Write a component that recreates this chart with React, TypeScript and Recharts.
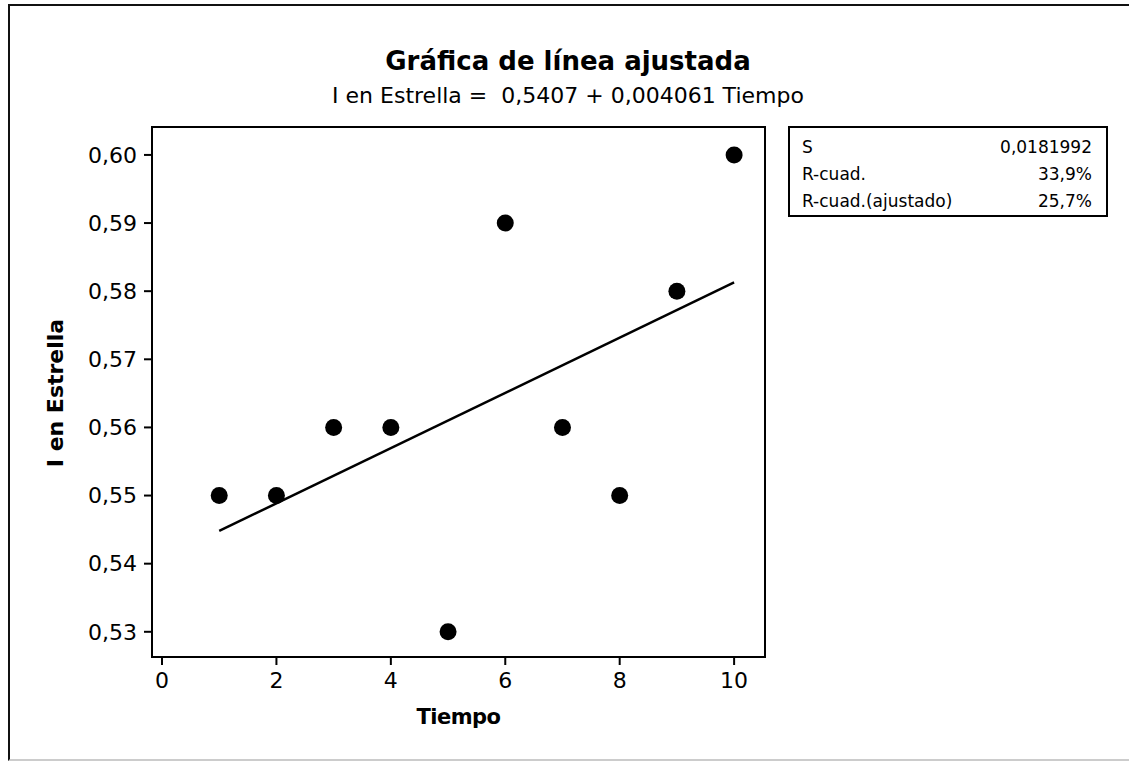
import React from 'react';
import { ComposedChart, Scatter, Line, XAxis, YAxis, ReferenceArea } from 'recharts';

const tiempo = [1, 2, 3, 4, 5, 6, 7, 8, 9, 10];
const estrella = [0.55, 0.55, 0.56, 0.56, 0.53, 0.59, 0.56, 0.55, 0.58, 0.6];
// ends of the fitted line
const fitX = [1, 10];
const fitY = [0.5448, 0.5813];

const xTicks = [0, 2, 4, 6, 8, 10];
const yTicks = [0.53, 0.54, 0.55, 0.56, 0.57, 0.58, 0.59, 0.6];
const xDomain = [-0.175, 10.54];
const yDomain = [0.5263, 0.6041];

const statsRows = [
  ['S', '0,0181992'],
  ['R-cuad.', '33,9%'],
  ['R-cuad.(ajustado)', '25,7%'],
];

const points = tiempo.map((x, i) => ({ x, y: estrella[i] }));
const fitLine = fitX.map((x, i) => ({ x, y: fitY[i] }));

const font = "'DejaVu Sans', sans-serif";

const Dot = (props: any) => <circle cx={props.cx} cy={props.cy} r={8.5} fill="#000" />;

export default function App() {
  return (
    <div style={{ position: 'absolute', left: 0, top: 0, width: 1129, height: 761, background: '#fff', fontFamily: font, color: '#000' }}>
      <div style={{ position: 'absolute', left: 8, top: 4, width: 1121, height: 753, borderLeft: '2px solid #111', borderTop: '2px solid #111', borderBottom: '2px solid #ccc' }} />

      <div style={{ position: 'absolute', left: 0, width: 1136, top: 45, lineHeight: '32px', textAlign: 'center', fontSize: 26, fontWeight: 'bold' }}>
        Gráfica de línea ajustada
      </div>
      <div style={{ position: 'absolute', left: 0, width: 1136, top: 82, lineHeight: '28px', textAlign: 'center', fontSize: 22, whiteSpace: 'pre' }}>
        {'I en Estrella =  0,5407 + 0,004061 Tiempo'}
      </div>

      <ComposedChart width={1129} height={761} margin={{ top: 127, right: 364, bottom: 64, left: 92 }}>
        <XAxis
          type="number"
          dataKey="x"
          domain={xDomain}
          ticks={xTicks}
          allowDataOverflow
          height={40}
          tickSize={8}
          tickMargin={7}
          axisLine={{ stroke: '#000', strokeWidth: 2 }}
          tickLine={{ stroke: '#000', strokeWidth: 2 }}
          tick={{ fill: '#000', fontSize: 22, fontFamily: font }}
        />
        <YAxis
          type="number"
          dataKey="y"
          domain={yDomain}
          ticks={yTicks}
          allowDataOverflow
          width={60}
          tickSize={8}
          tickMargin={7}
          tickFormatter={(v: number) => v.toFixed(2).replace('.', ',')}
          axisLine={{ stroke: '#000', strokeWidth: 2 }}
          tickLine={{ stroke: '#000', strokeWidth: 2 }}
          tick={{ fill: '#000', fontSize: 22, fontFamily: font }}
        />
        <ReferenceArea x1={xDomain[0]} x2={xDomain[1]} y1={yDomain[0]} y2={yDomain[1]} fill="none" stroke="#000" strokeWidth={2} ifOverflow="visible" />
        <Line data={fitLine} dataKey="y" stroke="#000" strokeWidth={2.5} dot={false} isAnimationActive={false} />
        <Scatter data={points} dataKey="y" shape={Dot} isAnimationActive={false} />
      </ComposedChart>

      <div style={{ position: 'absolute', left: 56, top: 393, transform: 'translate(-50%, -50%) rotate(-90deg)', fontSize: 22, lineHeight: '26px', fontWeight: 'bold', whiteSpace: 'nowrap' }}>
        I en Estrella
      </div>
      <div style={{ position: 'absolute', left: 152, width: 613, top: 704, lineHeight: '26px', textAlign: 'center', fontSize: 21, fontWeight: 'bold', letterSpacing: -0.5 }}>
        Tiempo
      </div>

      <div style={{ position: 'absolute', left: 788, top: 126, width: 320, height: 91, border: '2px solid #000', padding: '6px 14px 0 12px', boxSizing: 'border-box', fontSize: 17 }}>
        {statsRows.map(([k, v]) => (
          <div key={k} style={{ display: 'flex', justifyContent: 'space-between', height: 27, lineHeight: '27px' }}>
            <span>{k}</span>
            <span>{v}</span>
          </div>
        ))}
      </div>
    </div>
  );
}
